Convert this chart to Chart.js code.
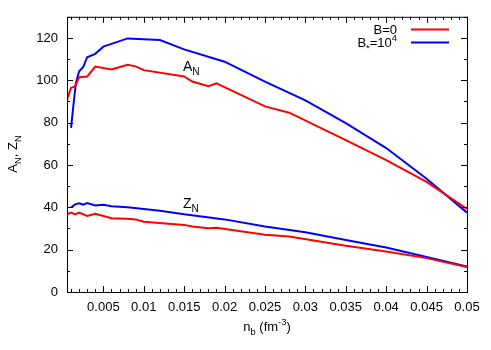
<!DOCTYPE html>
<html>
<head>
<meta charset="utf-8">
<script src="https://cdn.jsdelivr.net/npm/chart.js@4/dist/chart.umd.min.js"></script>
<style>
    html, body { margin: 0; padding: 0; background: #fff; }
    #wrap { width: 491px; height: 350px; }
</style>
</head>
<body>
<div id="wrap"><canvas id="chart" width="491" height="350"></canvas></div>
<script>
// B=0 curves
const nbRed = [0.0005, 0.001, 0.0015, 0.002, 0.003, 0.004, 0.006, 0.008, 0.009, 0.01, 0.015, 0.016, 0.018, 0.019, 0.025, 0.028, 0.035, 0.04, 0.045, 0.05];
const anRed = [90.8, 96.5, 97.1, 101.5, 101.8, 106.5, 105.1, 107.3, 106.6, 104.8, 101.8, 99.4, 97.2, 98.6, 87.7, 84.7, 71.7, 62.3, 52.0, 39.2];
const znRed = [36.7, 37.5, 36.7, 37.5, 35.9, 37.0, 34.8, 34.6, 34.3, 33.2, 31.7, 30.9, 30.1, 30.4, 27.0, 26.2, 21.8, 19.1, 16.0, 11.8];

// B*=10^4 curves
const nbBlue = [0.001, 0.0014, 0.0016, 0.002, 0.0025, 0.003, 0.004, 0.005, 0.006, 0.008, 0.012, 0.015, 0.02, 0.025, 0.03, 0.035, 0.04, 0.045, 0.05];
const anBlue = [77.5, 92.0, 98.6, 104.3, 106.2, 110.9, 112.5, 115.9, 117.2, 119.8, 119.0, 114.6, 108.8, 99.4, 90.5, 79.8, 68.0, 53.5, 37.5];
const znBlue = [40.0, 41.0, 41.5, 41.9, 41.3, 42.0, 40.9, 41.2, 40.5, 40.0, 38.4, 36.7, 34.3, 30.9, 28.2, 24.6, 21.0, 16.5, 12.0];

const xTicks = [0.005, 0.01, 0.015, 0.02, 0.025, 0.03, 0.035, 0.04, 0.045, 0.05];
const yTicks = [0, 20, 40, 60, 80, 100, 120];

const FONT = '"Liberation Sans", Arial, sans-serif';
const RED = '#ff0000';
const BLUE = '#0000ff';

const pts = (xs, ys) => xs.map((x, i) => ({ x: x, y: ys[i] }));

// text with sub/superscript pieces: [text, 'n'|'sub'|'sup']
function richText(ctx, parts, x, y, size, align) {
    const measure = parts.map(p => {
        ctx.font = (p[1] === 'n' ? size : size * 0.72) + 'px ' + FONT;
        return ctx.measureText(p[0]).width;
    });
    const total = measure.reduce((a, b) => a + b, 0);
    let cx = align === 'right' ? x - total : align === 'center' ? x - total / 2 : x;
    ctx.textBaseline = 'alphabetic';
    ctx.textAlign = 'left';
    parts.forEach((p, i) => {
        const small = p[1] !== 'n';
        ctx.font = (small ? size * 0.72 : size) + 'px ' + FONT;
        let dy = 0;
        if (p[1] === 'sub') dy = size * 0.3;
        if (p[1] === 'sup') dy = -size * 0.45;
        ctx.fillText(p[0], cx, y + dy);
        cx += measure[i];
    });
}

const framePlugin = {
    id: 'frame',
    afterDatasetsDraw(chart) {
        const { ctx, chartArea: a, scales } = chart;
        const xs = scales.x, ys = scales.y;
        ctx.save();
        ctx.strokeStyle = '#000';
        ctx.lineWidth = 1;
        ctx.strokeRect(a.left + 0.5, a.top + 0.5, a.right - a.left, a.bottom - a.top);

        ctx.beginPath();
        // x ticks (minor every 0.001, major every 0.005), bottom and top
        for (let i = 1; i <= 50; i++) {
            const v = i / 1000;
            if (v < xs.min) continue;
            const px = Math.round(xs.getPixelForValue(v)) + 0.5;
            const len = i % 5 === 0 ? 6 : 3;
            ctx.moveTo(px, a.bottom);
            ctx.lineTo(px, a.bottom - len);
            ctx.moveTo(px, a.top);
            ctx.lineTo(px, a.top + len);
        }
        // y ticks every 10, major every 20, left and right
        for (let v = 0; v <= 130; v += 10) {
            const py = Math.round(ys.getPixelForValue(v)) + 0.5;
            const len = v % 20 === 0 ? 6 : 3;
            ctx.moveTo(a.left, py);
            ctx.lineTo(a.left + len, py);
            ctx.moveTo(a.right, py);
            ctx.lineTo(a.right - len, py);
        }
        ctx.stroke();

        // legend
        ctx.fillStyle = '#000';
        richText(ctx, [['B=0', 'n']], 397, 34, 13, 'right');
        richText(ctx, [['B', 'n'], ['*', 'sub'], ['=10', 'n'], ['4', 'sup']], 397, 47, 13, 'right');
        ctx.lineWidth = 2;
        ctx.strokeStyle = RED;
        ctx.beginPath();
        ctx.moveTo(411, 29.5);
        ctx.lineTo(449, 29.5);
        ctx.stroke();
        ctx.strokeStyle = BLUE;
        ctx.beginPath();
        ctx.moveTo(411, 42.5);
        ctx.lineTo(449, 42.5);
        ctx.stroke();

        // curve labels
        richText(ctx, [['A', 'n'], ['N', 'sub']], 183, 71, 14, 'left');
        richText(ctx, [['Z', 'n'], ['N', 'sub']], 183, 208, 14, 'left');

        // axis titles
        richText(ctx, [['n', 'n'], ['b', 'sub'], [' (fm', 'n'], ['-3', 'sup'], [')', 'n']], 267, 331, 13, 'center');
        ctx.translate(17, 154);
        ctx.rotate(-Math.PI / 2);
        richText(ctx, [['A', 'n'], ['N', 'sub'], [', Z', 'n'], ['N', 'sub']], 0, 0, 13, 'center');
        ctx.restore();
    }
};

const lineStyle = (color) => ({
    borderColor: color,
    backgroundColor: color,
    borderWidth: 2,
    pointRadius: 0,
    tension: 0,
    fill: false
});

new Chart(document.getElementById('chart'), {
    type: 'line',
    data: {
        datasets: [
            { label: 'B=0 A', data: pts(nbRed, anRed), ...lineStyle(RED) },
            { label: 'B=0 Z', data: pts(nbRed, znRed), ...lineStyle(RED) },
            { label: 'B*=1e4 A', data: pts(nbBlue, anBlue), ...lineStyle(BLUE) },
            { label: 'B*=1e4 Z', data: pts(nbBlue, znBlue), ...lineStyle(BLUE) }
        ]
    },
    options: {
        responsive: false,
        animation: false,
        layout: { padding: { left: 0, top: 16, right: 24, bottom: 0 } },
        plugins: { legend: { display: false }, tooltip: { enabled: false } },
        scales: {
            x: {
                type: 'linear',
                min: 0.0005,
                max: 0.05,
                grid: { display: false, drawTicks: false },
                border: { display: false },
                afterBuildTicks: (s) => { s.ticks = xTicks.map(v => ({ value: v })); },
                afterFit: (s) => { s.height = 58; },
                ticks: {
                    color: '#000',
                    padding: 8,
                    maxRotation: 0,
                    autoSkip: false,
                    font: { family: FONT, size: 13 },
                    callback: (v) => String(v)
                }
            },
            y: {
                min: 0,
                max: 130,
                grid: { display: false, drawTicks: false },
                border: { display: false },
                afterBuildTicks: (s) => { s.ticks = yTicks.map(v => ({ value: v })); },
                afterFit: (s) => { s.width = 67; },
                ticks: {
                    color: '#000',
                    padding: 9,
                    font: { family: FONT, size: 13 },
                    callback: (v) => String(v)
                }
            }
        }
    },
    plugins: [framePlugin]
});
</script>
</body>
</html>
